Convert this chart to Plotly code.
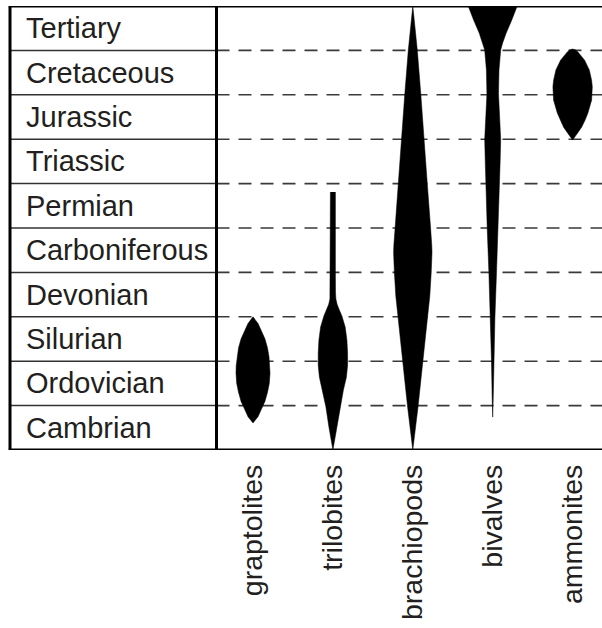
import plotly.graph_objects as go

# ---------------- data ----------------
periods = ["Cambrian", "Ordovician", "Silurian", "Devonian", "Carboniferous",
           "Permian", "Triassic", "Jurassic", "Cretaceous", "Tertiary"]
taxa = ["graptolites", "trilobites", "brachiopods", "bivalves", "ammonites"]

# spindle profiles: y in period units (0 = base of Cambrian), half-width = relative diversity
grapt_y = [3.00, 2.85, 2.70, 2.50, 2.30, 2.10, 1.90, 1.73, 1.50, 1.30, 1.10, 0.90, 0.75, 0.61]
grapt_w = [0.0, 5.0, 8.0, 12.0, 14.5, 16.0, 16.8, 17.0, 16.3, 14.5, 12.0, 8.0, 5.0, 0.0]

trilo_y = [5.81, 5.00, 4.00, 3.55, 3.40, 3.28, 3.15, 3.02, 2.77, 2.48, 2.18, 1.91, 1.64, 1.35, 0.97, 0.52, 0.23, 0.00]
trilo_w = [2.5, 2.5, 2.5, 2.6, 3.0, 4.2, 6.5, 9.0, 12.3, 14.0, 14.7, 14.7, 13.5, 10.5, 7.0, 4.0, 1.8, 0.0]

brach_y = [10.0, 9.01, 8.02, 7.00, 5.99, 5.00, 4.80, 4.60, 4.44, 4.25, 4.10, 3.99, 3.47, 2.97, 1.98, 0.97, 0.00]
brach_w = [0.0, 4.5, 8.0, 11.5, 14.5, 17.8, 18.5, 19.0, 19.2, 19.0, 18.7, 18.4, 17.0, 14.8, 10.0, 5.2, 0.0]

bival_y = [10.0, 9.91, 9.80, 9.68, 9.39, 9.17, 9.01, 8.56, 8.02, 7.55, 7.00, 6.53, 5.99, 5.00, 3.99, 2.97, 1.98, 1.13, 0.74]
bival_w = [24.5, 23.0, 21.0, 19.0, 13.5, 10.0, 8.0, 6.3, 5.8, 6.8, 8.0, 7.5, 7.0, 5.5, 3.8, 2.2, 1.2, 0.5, 0.0]

ammon_y = [9.03, 9.01, 8.96, 8.87, 8.78, 8.56, 8.33, 8.18, 7.88, 7.59, 7.43, 7.27, 7.14, 6.98]
ammon_w = [0.0, 3.0, 5.5, 9.0, 12.0, 16.7, 19.0, 19.7, 19.0, 15.3, 12.5, 9.0, 5.0, 0.0]

profiles = [(grapt_y, grapt_w), (trilo_y, trilo_w), (brach_y, brach_w),
            (bival_y, bival_w), (ammon_y, ammon_w)]

# ---------------- style ----------------
W, H = 602, 628
FONT = "Liberation Sans, Arial, Helvetica, sans-serif"
TEXT = "#231f20"
WIDTH_UNIT = 79.9          # diversity units per x-axis unit
X_LEFT, X_DIV = 10, 216.5  # table left edge and divider (px)

fig = go.Figure()

for i, (ys, ws) in enumerate(profiles):
    hw = [w / WIDTH_UNIT for w in ws]
    xs = [i - h for h in hw] + [i + h for h in reversed(hw)]
    yy = list(ys) + list(reversed(ys))
    fig.add_trace(go.Scatter(x=xs, y=yy, mode="lines", fill="toself",
                             fillcolor="black", line=dict(color="black", width=0.5),
                             hoverinfo="skip", showlegend=False))

shapes = []
n = len(periods)
# dashed boundaries in the chart area
for b in range(1, n):
    shapes.append(dict(type="line", xref="x domain", yref="y", x0=0, x1=1, y0=b, y1=b,
                       line=dict(color="#3a3a3a", width=1.6, dash="13px,9px"), layer="below"))
    shapes.append(dict(type="line", xref="paper", yref="y", x0=X_LEFT / W, x1=X_DIV / W,
                       y0=b, y1=b, line=dict(color="#333333", width=1.5)))
# frame
shapes += [
    dict(type="line", xref="paper", yref="y", x0=X_LEFT / W - 0.002, x1=1, y0=n, y1=n,
         line=dict(color="black", width=3)),
    dict(type="line", xref="paper", yref="y", x0=X_LEFT / W - 0.002, x1=1, y0=0, y1=0,
         line=dict(color="black", width=3)),
    dict(type="line", xref="paper", yref="y", x0=X_LEFT / W, x1=X_LEFT / W, y0=0, y1=n,
         line=dict(color="black", width=3)),
    dict(type="line", xref="paper", yref="y", x0=X_DIV / W, x1=X_DIV / W, y0=0, y1=n,
         line=dict(color="black", width=3)),
]

annotations = []
for k, p in enumerate(periods):
    annotations.append(dict(text=p, xref="paper", yref="y", x=24 / W, y=k + 0.5,
                            xanchor="left", yanchor="middle", showarrow=False,
                            font=dict(family=FONT, size=29, color=TEXT)))

fig.update_layout(
    width=W, height=H,
    margin=dict(l=0, r=0, t=6, b=178),
    paper_bgcolor="white", plot_bgcolor="white",
    shapes=shapes, annotations=annotations,
    xaxis=dict(domain=[X_DIV / W, 1], range=[(X_DIV - 253) / WIDTH_UNIT, (W - 253) / WIDTH_UNIT],
               tickmode="array", tickvals=list(range(len(taxa))), ticktext=taxa,
               tickangle=-90, ticks="", ticklabelstandoff=8,
               tickfont=dict(family=FONT, size=28.5, color=TEXT),
               showgrid=False, zeroline=False, showline=False, fixedrange=True),
    yaxis=dict(range=[0, n], visible=False, showgrid=False, zeroline=False, fixedrange=True),
    showlegend=False,
)

fig.write_html("out.html", config={"displayModeBar": False},
               post_script="document.body.style.margin='0';document.body.style.overflow='hidden';")
